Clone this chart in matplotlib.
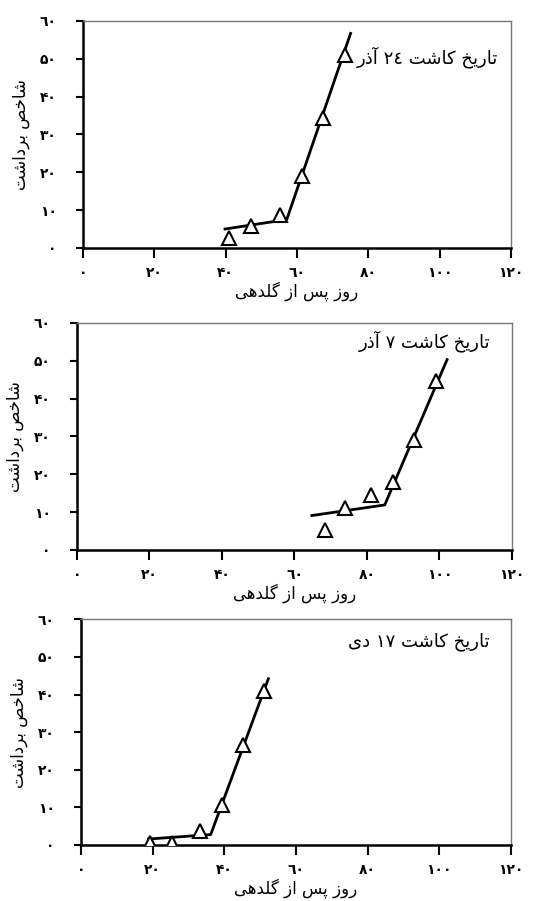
import re
import matplotlib
matplotlib.use('Agg')
import matplotlib.pyplot as plt

# داده ها (از روی شکل خوانده شده)
titles = ['تاریخ کاشت ۲٤ آذر', 'تاریخ کاشت ۷ آذر', 'تاریخ کاشت ۱۷ دی']

x1 = [40.9, 47.0, 55.2, 61.3, 67.2, 73.4]
y1 = [2.6, 5.7, 8.8, 18.9, 34.3, 51.1]
fit_x1 = [39.8, 57.1, 75.0]
fit_y1 = [5.0, 7.5, 56.7]

x2 = [68.3, 74.0, 81.2, 87.2, 93.1, 99.1]
y2 = [5.3, 11.0, 14.5, 17.9, 29.0, 44.6]
fit_x2 = [64.8, 84.9, 102.1]
fit_y2 = [9.1, 11.9, 50.3]

x3 = [19.3, 25.3, 33.2, 39.3, 45.3, 51.2]
y3 = [0.4, 0.4, 3.7, 10.5, 26.6, 41.0]
fit_x3 = [18.8, 36.2, 52.3]
fit_y3 = [1.5, 2.7, 44.2]

xticks = [0, 20, 40, 60, 80, 100, 120]
xtick_labels = ['۰', '۲۰', '۴۰', '٦۰', '۸۰', '۱۰۰', '۱۲۰']
yticks = [0, 10, 20, 30, 40, 50, 60]
ytick_labels = ['۰', '۱۰', '۲۰', '۳۰', '۴۰', '۵۰', '٦۰']

xlabel = 'روز پس از گلدهی'
ylabel = 'شاخص برداشت'

# شکل دادن حروف فارسی (matplotlib خودش راست به چپ نمی نویسد)
forms = {
    'ا': ('\uFE8D', '\uFE8E'), 'آ': ('\uFE81', '\uFE82'),
    'د': ('\uFEA9', '\uFEAA'), 'ذ': ('\uFEAB', '\uFEAC'),
    'ر': ('\uFEAD', '\uFEAE'), 'ز': ('\uFEAF', '\uFEB0'),
    'و': ('\uFEED', '\uFEEE'),
    'ب': ('\uFE8F', '\uFE90', '\uFE91', '\uFE92'),
    'ت': ('\uFE95', '\uFE96', '\uFE97', '\uFE98'),
    'خ': ('\uFEA5', '\uFEA6', '\uFEA7', '\uFEA8'),
    'س': ('\uFEB1', '\uFEB2', '\uFEB3', '\uFEB4'),
    'ش': ('\uFEB5', '\uFEB6', '\uFEB7', '\uFEB8'),
    'ص': ('\uFEB9', '\uFEBA', '\uFEBB', '\uFEBC'),
    'ل': ('\uFEDD', '\uFEDE', '\uFEDF', '\uFEE0'),
    'ه': ('\uFEE9', '\uFEEA', '\uFEEB', '\uFEEC'),
    'پ': ('\uFB56', '\uFB57', '\uFB58', '\uFB59'),
    'ک': ('\uFB8E', '\uFB8F', '\uFB90', '\uFB91'),
    'گ': ('\uFB92', '\uFB93', '\uFB94', '\uFB95'),
    'ی': ('\uFBFC', '\uFBFD', '\uFBFE', '\uFBFF'),
}


def fa(s):
    out = []
    for i, c in enumerate(s):
        if c not in forms:
            out.append(c)
            continue
        prev = s[i - 1] if i > 0 else ''
        nxt = s[i + 1] if i + 1 < len(s) else ''
        f = forms[c]
        jp = prev in forms and len(forms[prev]) == 4
        jn = len(f) == 4 and nxt in forms
        if jp and jn:
            out.append(f[3])
        elif jp:
            out.append(f[1])
        elif jn:
            out.append(f[2])
        else:
            out.append(f[0])
    r = ''.join(out)[::-1]
    return re.sub(r'[۰-۹٠-٩]+', lambda m: m.group(0)[::-1], r)


fig = plt.figure(figsize=(5.44, 9.01), dpi=100)

panels = [
    (x1, y1, fit_x1, fit_y1, [0.1526, 0.7248, 0.787, 0.252]),
    (x2, y2, fit_x2, fit_y2, [0.1415, 0.3896, 0.7996, 0.252]),
    (x3, y3, fit_x3, fit_y3, [0.149, 0.0625, 0.790, 0.250]),
]

for i, (x, y, fx, fy, pos) in enumerate(panels):
    ax = fig.add_axes(pos)
    ax.plot(fx, fy, color='black', lw=2, zorder=2)
    ax.plot(x, y, linestyle='none', marker='^', markersize=10,
            markerfacecolor='white', markeredgecolor='black', markeredgewidth=1.5, zorder=3)
    ax.set_xlim(0, 120)
    ax.set_ylim(0, 60)
    ax.set_xticks(xticks)
    ax.set_xticklabels(xtick_labels, fontsize=10, fontweight='bold')
    ax.set_yticks(yticks)
    ax.set_yticklabels(ytick_labels, fontsize=10, fontweight='bold')
    ax.tick_params(axis='x', direction='out', length=7, width=1.5, pad=6)
    ax.tick_params(axis='y', direction='out', length=5, width=1.5, pad=14)
    for s in ['left', 'bottom']:
        ax.spines[s].set_linewidth(1.8)
    for s in ['top', 'right']:
        ax.spines[s].set_linewidth(1.0)
        ax.spines[s].set_color('#777777')
    ax.set_xlabel(fa(xlabel), fontsize=12, labelpad=1)
    ax.set_ylabel(fa(ylabel), fontsize=12, labelpad=7)
    ty = [0.84, 0.92, 0.90][i]
    tx = [0.97, 0.95, 0.95][i]
    ax.text(tx, ty, fa(titles[i]), transform=ax.transAxes, ha='right', va='center', fontsize=13)

plt.savefig('out.png', dpi=100)
